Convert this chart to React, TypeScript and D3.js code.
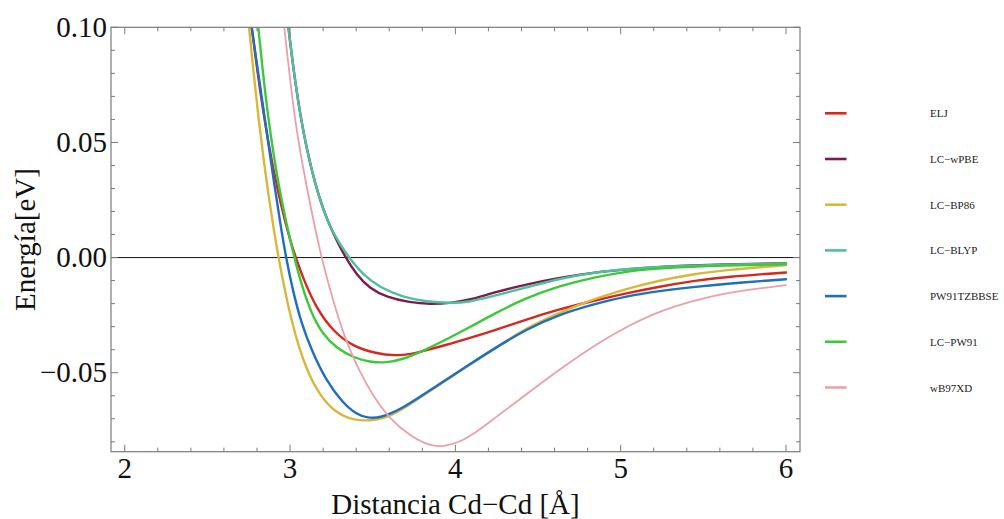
import React from 'react';
import * as d3 from 'd3';

// ---- data ----
const xTicksMajor = [2, 3, 4, 5, 6];
const yTicksMajor = [-0.05, 0.0, 0.05, 0.1];
const yTickLabels = ['\u22120.05', '0.00', '0.05', '0.10'];

const seriesNames = ['ELJ', 'LC\u2212wPBE', 'LC\u2212BP86', 'LC\u2212BLYP', 'PW91TZBBSE', 'LC\u2212PW91', 'wB97XD'];
const seriesColors = ['#d5281e', '#7a1d4e', '#d8b83a', '#4fbf9c', '#1f6fc0', '#3cc83a', '#eaa0aa'];
const seriesWidths = [2.4, 2.4, 2.4, 2.4, 2.4, 2.4, 1.8];

const eljX = [2.768, 2.800, 2.835, 2.875, 2.920, 2.965, 3.005, 3.035, 3.090, 3.160, 3.260, 3.380, 3.520, 3.640, 3.720, 3.805, 3.947, 4.088, 4.229, 4.430, 4.632, 4.833, 5.035, 5.236, 5.438, 5.639, 6.0];
const eljY = [0.100, 0.0821, 0.0646, 0.0474, 0.0308, 0.0169, 0.0065, 0.0, -0.0110, -0.0220, -0.0320, -0.0386, -0.0417, -0.0426, -0.0421, -0.0406, -0.0379, -0.0349, -0.0318, -0.0268, -0.0224, -0.0188, -0.0155, -0.0126, -0.0101, -0.0083, -0.0065];

const wpbeX = [2.990, 3.010, 3.035, 3.065, 3.100, 3.150, 3.200, 3.260, 3.335, 3.403, 3.483, 3.584, 3.725, 3.846, 3.967, 4.088, 4.229, 4.430, 4.632, 4.833, 5.035, 5.236, 5.639, 6.0];
const wpbeY = [0.100, 0.088, 0.0745, 0.0607, 0.0474, 0.0324, 0.0209, 0.0104, 0.0, -0.0075, -0.0135, -0.0172, -0.0195, -0.0203, -0.0198, -0.0184, -0.0152, -0.0116, -0.0087, -0.0065, -0.0051, -0.0039, -0.0029, -0.0025];

const bp86X = [2.752, 2.780, 2.810, 2.840, 2.870, 2.900, 2.930, 2.970, 3.010, 3.055, 3.110, 3.180, 3.270, 3.360, 3.440, 3.520, 3.600, 3.684, 3.886, 4.088, 4.229, 4.430, 4.632, 4.833, 5.035, 5.236, 5.438, 5.639, 6.0];
const bp86Y = [0.100, 0.0798, 0.0600, 0.0426, 0.0270, 0.0129, 0.0, -0.0148, -0.0276, -0.0393, -0.0503, -0.0598, -0.0670, -0.0701, -0.0709, -0.0705, -0.0690, -0.0658, -0.0560, -0.0465, -0.0398, -0.0305, -0.0239, -0.0181, -0.0135, -0.0099, -0.0072, -0.0054, -0.0033];

const blypX = [2.990, 3.010, 3.035, 3.065, 3.100, 3.150, 3.200, 3.260, 3.355, 3.443, 3.543, 3.684, 3.826, 3.967, 4.088, 4.229, 4.430, 4.632, 4.833, 5.035, 5.236, 5.639, 6.0];
const blypY = [0.100, 0.088, 0.0745, 0.0607, 0.0474, 0.0324, 0.0209, 0.0104, 0.0, -0.0075, -0.0130, -0.0172, -0.0192, -0.0198, -0.0193, -0.0167, -0.0130, -0.0091, -0.0065, -0.0050, -0.0040, -0.0030, -0.0026];

const pw91tzX = [2.768, 2.808, 2.848, 2.905, 2.940, 2.975, 3.020, 3.070, 3.130, 3.220, 3.320, 3.400, 3.470, 3.543, 3.684, 3.886, 4.088, 4.229, 4.430, 4.632, 4.833, 5.035, 5.236, 5.438, 5.639, 6.0];
const pw91tzY = [0.100, 0.080, 0.060, 0.0315, 0.0154, 0.0, -0.0153, -0.0288, -0.0402, -0.0537, -0.0632, -0.0680, -0.0697, -0.0697, -0.0655, -0.0557, -0.0463, -0.0398, -0.0311, -0.0246, -0.0203, -0.0167, -0.0145, -0.0128, -0.0113, -0.0094];

const lcpw91X = [2.808, 2.835, 2.868, 2.900, 2.935, 2.975, 3.026, 3.070, 3.130, 3.200, 3.282, 3.382, 3.483, 3.584, 3.684, 3.805, 3.947, 4.088, 4.229, 4.430, 4.632, 4.833, 5.035, 5.236, 5.639, 6.0];
const lcpw91Y = [0.100, 0.0806, 0.0608, 0.0448, 0.0301, 0.0157, 0.0, -0.0120, -0.0245, -0.0335, -0.0394, -0.0434, -0.0454, -0.0457, -0.0442, -0.0405, -0.0355, -0.0302, -0.0246, -0.0174, -0.0123, -0.0086, -0.0060, -0.0045, -0.0034, -0.0029];

const wb97xdX = [2.965, 2.982, 3.005, 3.030, 3.065, 3.100, 3.140, 3.181, 3.221, 3.282, 3.342, 3.423, 3.503, 3.604, 3.725, 3.846, 3.926, 4.027, 4.130, 4.229, 4.430, 4.632, 4.833, 5.035, 5.236, 5.438, 5.639, 6.0];
const wb97xdY = [0.100, 0.089, 0.0745, 0.060, 0.0445, 0.0310, 0.0166, 0.0030, -0.0085, -0.0239, -0.0369, -0.0499, -0.0601, -0.0702, -0.0774, -0.0818, -0.0822, -0.0802, -0.0757, -0.0702, -0.0593, -0.0485, -0.0384, -0.0300, -0.0232, -0.0188, -0.0152, -0.0120];

const seriesXs = [eljX, wpbeX, bp86X, blypX, pw91tzX, lcpw91X, wb97xdX];
const seriesYs = [eljY, wpbeY, bp86Y, blypY, pw91tzY, lcpw91Y, wb97xdY];

// ---- layout ----
const W = 1004;
const H = 519;
const left = 111;
const right = 800;
const top = 27.3;
const bottom = 451.7;

export default function App() {
  const x = d3.scaleLinear().domain([1.917, 6.0847]).range([left, right]);
  const y = d3.scaleLinear().domain([-0.0843, 0.1]).range([bottom, top]);

  const line = d3
    .line<[number, number]>()
    .x((d) => x(d[0]))
    .y((d) => y(d[1]))
    .curve(d3.curveBasis);

  const xMinor = d3.range(2, 6.0001, 0.2).filter((v) => Math.abs(v - Math.round(v)) > 1e-6);
  const yMinor = d3.range(-8, 10, 1).map((v) => v / 100).filter((v) => Math.abs((v * 100) % 5) > 1e-6);

  const frameColor = '#7a7a7a';
  const font = "'Liberation Serif', 'Times New Roman', serif";
  const major = 7;
  const minor = 4;

  const legendTop = 113.3;
  const legendStep = 45.7;

  return (
    <svg width={W} height={H} style={{ position: 'absolute', left: 0, top: 0, background: '#fff' }}>
      <defs>
        <clipPath id="plot">
          <rect x={left} y={top} width={right - left} height={bottom - top} />
        </clipPath>
      </defs>

      {/* zero line */}
      <line x1={left} x2={right} y1={y(0)} y2={y(0)} stroke="#111" strokeWidth={1} />

      {/* curves */}
      <g clipPath="url(#plot)" fill="none" strokeLinejoin="round" strokeLinecap="round">
        {seriesNames.map((n, i) => {
          const pts = seriesXs[i].map((v, j) => [v, seriesYs[i][j]] as [number, number]);
          return <path key={n} d={line(pts) || ''} stroke={seriesColors[i]} strokeWidth={seriesWidths[i]} />;
        })}
      </g>

      {/* frame */}
      <rect x={left} y={top} width={right - left} height={bottom - top} fill="none" stroke={frameColor} strokeWidth={1.2} />

      {/* ticks */}
      <g stroke={frameColor} strokeWidth={1}>
        {xTicksMajor.map((t) => (
          <g key={'xm' + t}>
            <line x1={x(t)} x2={x(t)} y1={bottom} y2={bottom - major} />
            <line x1={x(t)} x2={x(t)} y1={top} y2={top + major} />
          </g>
        ))}
        {xMinor.map((t) => (
          <g key={'xn' + t}>
            <line x1={x(t)} x2={x(t)} y1={bottom} y2={bottom - minor} />
            <line x1={x(t)} x2={x(t)} y1={top} y2={top + minor} />
          </g>
        ))}
        {yTicksMajor.map((t) => (
          <g key={'ym' + t}>
            <line x1={left} x2={left + major} y1={y(t)} y2={y(t)} />
            <line x1={right} x2={right - major} y1={y(t)} y2={y(t)} />
          </g>
        ))}
        {yMinor.map((t) => (
          <g key={'yn' + t}>
            <line x1={left} x2={left + minor} y1={y(t)} y2={y(t)} />
            <line x1={right} x2={right - minor} y1={y(t)} y2={y(t)} />
          </g>
        ))}
      </g>

      {/* tick labels */}
      <g fontFamily={font} fontSize={29} fill="#111">
        {xTicksMajor.map((t) => (
          <text key={'xl' + t} x={x(t)} y={478} textAnchor="middle">
            {String(t)}
          </text>
        ))}
        {yTicksMajor.map((t, i) => (
          <text key={'yl' + t} x={107} y={y(t) + 9.5} textAnchor="end">
            {yTickLabels[i]}
          </text>
        ))}
      </g>

      {/* axis titles */}
      <text x={(left + right) / 2} y={514} textAnchor="middle" fontFamily={font} fontSize={29} fill="#111">
        Distancia Cd{'\u2212'}Cd [Å]
      </text>
      <text
        transform={`translate(35, ${(top + bottom) / 2}) rotate(-90)`}
        textAnchor="middle"
        fontFamily={font}
        fontSize={29}
        fill="#111"
      >
        Energía[eV]
      </text>

      {/* legend */}
      <g>
        {seriesNames.map((n, i) => {
          const ly = legendTop + i * legendStep;
          return (
            <g key={'lg' + n}>
              <line x1={825} x2={846.5} y1={ly} y2={ly} stroke={seriesColors[i]} strokeWidth={2.6} />
              <text x={930} y={ly + 4} fontFamily={font} fontSize={11} fill="#222">
                {n}
              </text>
            </g>
          );
        })}
      </g>
    </svg>
  );
}
